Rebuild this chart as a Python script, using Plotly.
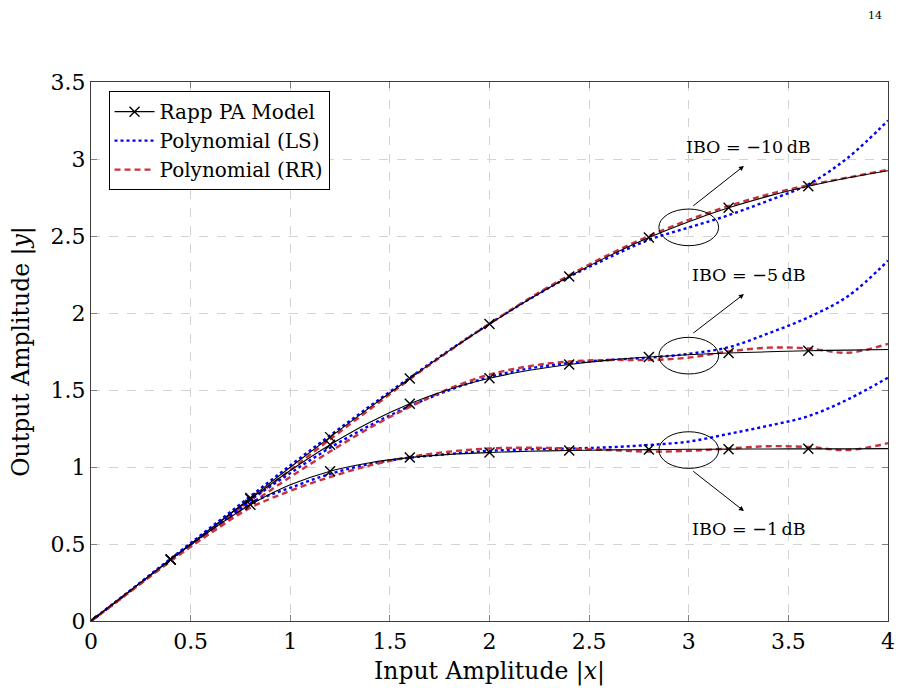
import plotly.graph_objects as go

# ---------------- data ----------------
x_in = [0.0, 0.2, 0.4, 0.6, 0.8, 1.0, 1.2, 1.4, 1.6, 1.8, 2.0,
        2.2, 2.4, 2.6, 2.8, 3.0, 3.2, 3.4, 3.6, 3.8, 4.0]

rapp_10 = [0, 0.200, 0.400, 0.600, 0.799, 0.998, 1.194, 1.387, 1.575, 1.757, 1.929,
           2.089, 2.237, 2.371, 2.490, 2.593, 2.683, 2.759, 2.823, 2.878, 2.924]
ls_10 = [0, 0.200, 0.405, 0.607, 0.810, 1.010, 1.205, 1.395, 1.580, 1.760, 1.930,
         2.090, 2.235, 2.360, 2.475, 2.555, 2.635, 2.730, 2.835, 3.010, 3.250]
rr_10 = [0, 0.195, 0.395, 0.590, 0.785, 0.980, 1.180, 1.375, 1.570, 1.755, 1.930,
         2.095, 2.245, 2.380, 2.500, 2.605, 2.695, 2.770, 2.830, 2.880, 2.930]

rapp_5 = [0, 0.200, 0.400, 0.598, 0.792, 0.977, 1.145, 1.291, 1.411, 1.505, 1.576,
          1.628, 1.666, 1.694, 1.714, 1.729, 1.740, 1.748, 1.755, 1.759, 1.763]
ls_5 = [0, 0.200, 0.402, 0.598, 0.785, 0.960, 1.125, 1.270, 1.395, 1.500, 1.585,
        1.640, 1.675, 1.695, 1.710, 1.735, 1.778, 1.868, 1.972, 2.110, 2.340]
rr_5 = [0, 0.195, 0.390, 0.580, 0.760, 0.935, 1.100, 1.255, 1.390, 1.510, 1.600,
        1.655, 1.685, 1.695, 1.695, 1.710, 1.750, 1.775, 1.770, 1.742, 1.800]

rapp_1 = [0, 0.200, 0.398, 0.588, 0.755, 0.884, 0.973, 1.028, 1.061, 1.082, 1.094,
          1.102, 1.107, 1.111, 1.113, 1.115, 1.116, 1.117, 1.118, 1.118, 1.119]
ls_1 = [0, 0.200, 0.400, 0.590, 0.765, 0.865, 0.955, 1.020, 1.060, 1.085, 1.105,
        1.115, 1.120, 1.128, 1.143, 1.165, 1.215, 1.268, 1.330, 1.440, 1.580]
rr_1 = [0, 0.195, 0.390, 0.570, 0.735, 0.845, 0.935, 1.010, 1.065, 1.100, 1.120,
        1.125, 1.120, 1.110, 1.100, 1.105, 1.120, 1.135, 1.130, 1.110, 1.155]

# which samples carry an "x" marker on the Rapp curves
rapp_marked = [True, False, True, False, True, False, True, False, True, False, True,
               False, True, False, True, False, True, False, True, False, False]

ibo_labels = ["IBO = \u221210\u2009dB", "IBO = \u22125\u2009dB", "IBO = \u22121\u2009dB"]
ibo_center_y = [2.556, 1.723, 1.11]
ibo_arrow_tail = [(3.015, 2.688), (3.015, 1.862), (3.015, 0.98)]
ibo_arrow_head = [(3.277, 2.955), (3.277, 2.123), (3.277, 0.714)]
ibo_text_pos = [(3.30, 3.08), (3.30, 2.247), (3.30, 0.595)]

x_ticks = [0, 0.5, 1, 1.5, 2, 2.5, 3, 3.5, 4]
y_ticks = [0, 0.5, 1, 1.5, 2, 2.5, 3, 3.5]

# ---------------- figure ----------------
BLUE = "#0000ff"
RED = "#c8323f"
FONT = "DejaVu Serif"

fig = go.Figure()
groups = [(rapp_10, ls_10, rr_10), (rapp_5, ls_5, rr_5), (rapp_1, ls_1, rr_1)]
mk_colors = ["black" if m else "rgba(0,0,0,0)" for m in rapp_marked]

for i, (rp, ls, rr) in enumerate(groups):
    first = i == 0
    fig.add_trace(go.Scatter(
        x=x_in, y=ls, mode="lines", line=dict(color=BLUE, width=2.4, dash="dot", shape="spline"),
        name="Polynomial (LS)", showlegend=first, legendrank=2, legendgroup="ls"))
    fig.add_trace(go.Scatter(
        x=x_in, y=rr, mode="lines", line=dict(color=RED, width=2.4, dash="6px,4px", shape="spline"),
        name="Polynomial (RR)", showlegend=first, legendrank=3, legendgroup="rr"))
    fig.add_trace(go.Scatter(
        x=x_in, y=rp, mode="lines+markers", line=dict(color="black", width=1.1, shape="spline"),
        marker=dict(symbol="x-thin", size=10, color=mk_colors,
                    line=dict(color=mk_colors, width=1.4)),
        name="Rapp PA Model", showlegend=first, legendrank=1, legendgroup="rapp"))

shapes = []
annotations = []
for lab, cy, (tx, ty), (hx, hy), (lx, ly) in zip(ibo_labels, ibo_center_y, ibo_arrow_tail,
                                                  ibo_arrow_head, ibo_text_pos):
    shapes.append(dict(type="circle", xref="x", yref="y", x0=3.0 - 0.15, x1=3.0 + 0.15,
                       y0=cy - 0.119, y1=cy + 0.119, line=dict(color="black", width=1)))
    annotations.append(dict(x=hx, y=hy, ax=tx, ay=ty, xref="x", yref="y", axref="x", ayref="y",
                            showarrow=True, arrowhead=2, arrowsize=1, arrowwidth=1,
                            arrowcolor="black", text=""))
    annotations.append(dict(x=lx, y=ly, xref="x", yref="y", text=lab, showarrow=False,
                            font=dict(family=FONT, size=17.5, color="black")))

annotations.append(dict(x=0.995, y=1.0, xref="paper", yref="paper", xanchor="right", text="14",
                        showarrow=False, yshift=75,
                        font=dict(family=FONT, size=11, color="black")))

axis_common = dict(
    showgrid=True, gridcolor="#d3d3d3", griddash="dash", gridwidth=1,
    zeroline=False, showline=True, linecolor="#3c3c3c", linewidth=1.2, mirror="ticks",
    ticks="inside", ticklen=6, tickcolor="#808080", tickwidth=1,
    tickfont=dict(family=FONT, size=22, color="black"),
)

fig.update_layout(
    width=908, height=695,
    margin=dict(l=91, r=20, t=82, b=74),
    paper_bgcolor="white", plot_bgcolor="white",
    showlegend=True,
    legend=dict(x=0.022, y=0.983, xanchor="left", yanchor="top",
                bgcolor="white", bordercolor="black", borderwidth=1,
                font=dict(family=FONT, size=20, color="black"),
                tracegroupgap=0, itemwidth=40),
    xaxis=dict(range=[0, 4], tickvals=x_ticks, **axis_common,
               title=dict(text="Input Amplitude |<i>x</i>|", standoff=10,
                          font=dict(family=FONT, size=23.5, color="black"))),
    yaxis=dict(range=[0, 3.5], tickvals=y_ticks, **axis_common,
               title=dict(text="Output Amplitude |<i>y</i>|", standoff=14,
                          font=dict(family=FONT, size=23.5, color="black"))),
    shapes=shapes, annotations=annotations,
)

fig.write_html("out.html")
